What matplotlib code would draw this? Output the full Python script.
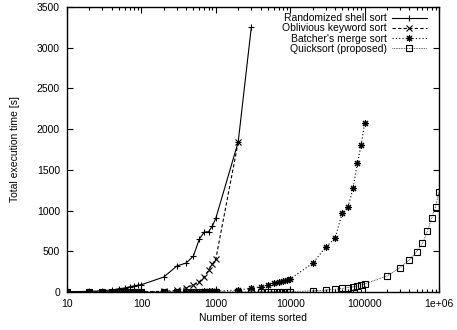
import matplotlib
matplotlib.use("Agg")
import matplotlib.pyplot as plt
from matplotlib.ticker import FixedLocator, FixedFormatter

plt.rcParams['font.family'] = ['Liberation Sans', 'DejaVu Sans']
plt.rcParams['font.size'] = 7.5

# items sorted
n_shell = [10, 20, 30, 40, 50, 60, 70, 80, 90, 100,
           200, 300, 400, 500, 600, 700, 800, 900, 1000, 2000, 3000]
t_shell = [3, 8, 15, 25, 40, 50, 65, 75, 85, 90,
           184, 320, 356, 442, 650, 735, 740, 810, 905, 1843, 3250]

n_obl = [10, 20, 30, 40, 50, 60, 70, 80, 90, 100,
         200, 300, 400, 500, 600, 700, 800, 900, 1000, 2000]
t_obl = [1, 1, 1, 2, 2, 2, 3, 3, 3, 4,
         8, 20, 55, 85, 127, 184, 270, 344, 405, 1840]

n_bat = [10, 20, 30, 40, 50, 60, 70, 80, 90, 100,
         200, 300, 400, 500, 600, 700, 800, 900, 1000,
         2000, 3000, 4000, 5000, 6000, 7000, 8000, 9000, 10000,
         20000, 30000, 40000, 50000, 60000, 70000, 80000, 90000, 100000]
t_bat = [0, 0, 0, 0, 0, 0, 1, 1, 1, 1,
         2, 3, 4, 5, 6, 7, 8, 9, 10,
         25, 45, 65, 85, 105, 120, 135, 148, 160,
         352, 549, 660, 967, 1048, 1274, 1581, 1806, 2072]

n_qs = [10, 20, 30, 40, 50, 60, 70, 80, 90, 100,
        200, 300, 400, 500, 600, 700, 800, 900, 1000,
        2000, 3000, 4000, 5000, 6000, 7000, 8000, 9000, 10000,
        20000, 30000, 40000, 50000, 60000, 70000, 80000, 90000, 100000,
        200000, 300000, 400000, 500000, 600000, 700000, 800000, 900000, 1000000]
t_qs = [0, 0, 0, 0, 0, 0, 0, 0, 0, 0,
        0, 0, 0, 0, 1, 1, 1, 1, 1,
        2, 2, 3, 3, 4, 4, 5, 5, 6,
        14, 24, 34, 44, 54, 64, 74, 86, 98,
        197, 299, 393, 495, 598, 750, 913, 1048, 1232]

x_ticks = [10, 100, 1000, 10000, 100000, 1000000]
x_labels = ['10', '100', '1000', '10000', '100000', '1e+06']

fig = plt.figure(figsize=(4.57, 3.30), dpi=100)
ax = fig.add_axes([67 / 457, 38 / 330, 372 / 457, 285 / 330])

lw = 0.8
ax.plot(n_shell, t_shell, color='black', lw=lw, ls='-', marker='+', ms=5,
        mew=0.8, label='Randomized shell sort')
ax.plot(n_obl, t_obl, color='black', lw=lw, ls=(0, (3, 2)), marker='x', ms=4,
        mew=0.8, label='Oblivious keyword sort')
ax.plot(n_bat, t_bat, color='black', lw=lw, ls=(0, (1, 2)), marker=(8, 2, 0),
        ms=5, mew=0.8, label="Batcher's merge sort")
ax.plot(n_qs, t_qs, color='black', lw=0.6, ls=(0, (0.8, 1.2)), marker='s', ms=4,
        mew=0.8, mfc='none', label='Quicksort (proposed)')

ax.set_xscale('log')
ax.set_xlim(10, 1000000)
ax.set_ylim(0, 3500)
ax.xaxis.set_major_locator(FixedLocator(x_ticks))
ax.xaxis.set_major_formatter(FixedFormatter(x_labels))
ax.set_yticks(range(0, 3501, 500))
ax.tick_params(which='both', direction='in', top=True, right=True, width=0.8)
ax.tick_params(which='major', length=4, pad=5)
ax.tick_params(which='minor', length=2)
for s in ax.spines.values():
    s.set_linewidth(1.0)

ax.set_xlabel('Number of items sorted', labelpad=3)
ax.set_ylabel('Total execution time [s]', labelpad=12)

ax.legend(loc='upper right', frameon=False, markerfirst=False,
          handlelength=3.4, handletextpad=0.5, labelspacing=0.02,
          borderaxespad=0.2, bbox_to_anchor=(0.985, 1.0))

fig.savefig('out.png', dpi=100)
